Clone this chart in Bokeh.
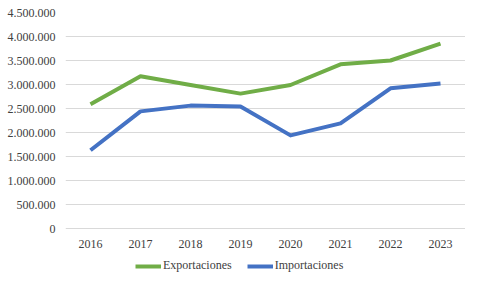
from bokeh.plotting import figure
from bokeh.models import FactorRange, Range1d, Legend, LegendItem, CustomJSTickFormatter, ColumnDataSource
from bokeh.core.properties import value
from bokeh.embed import file_html
from bokeh.resources import INLINE

years = ["2016", "2017", "2018", "2019", "2020", "2021", "2022", "2023"]
exportaciones = [2590000, 3170000, 2990000, 2810000, 2990000, 3420000, 3500000, 3850000]
importaciones = [1630000, 2440000, 2560000, 2540000, 1940000, 2190000, 2920000, 3020000]
y_ticks = [0, 500000, 1000000, 1500000, 2000000, 2500000, 3000000, 3500000, 4000000, 4500000]

FONT = "Liberation Serif"
GREEN = "#70AD47"
BLUE = "#4472C4"
Y_MAX = 4500000
Y_MIN = -Y_MAX * 45 / 216  # room below zero for year labels and legend

p = figure(frame_width=400, frame_height=261, x_range=FactorRange(*years), y_range=Range1d(Y_MIN, Y_MAX),
           x_axis_location=None, output_backend="svg", toolbar_location=None)
p.min_border_left = 65
p.min_border_right = 0
p.min_border_top = 12
p.min_border_bottom = 0
p.outline_line_color = None
p.background_fill_color = "white"
p.border_fill_color = "white"

src = ColumnDataSource(dict(x=years, exp=exportaciones, imp=importaciones, zero=[0] * len(years)))
r1 = p.line("x", "exp", source=src, line_color=GREEN, line_width=4, line_join="round")
r2 = p.line("x", "imp", source=src, line_color=BLUE, line_width=4, line_join="round")

# year labels under the zero line
p.text("x", "zero", text="x", source=src, y_offset=15, text_align="center", text_baseline="middle",
       text_font=value(FONT), text_font_size="12px", text_color="#404040")

p.yaxis.ticker = y_ticks
p.yaxis.formatter = CustomJSTickFormatter(code="return tick.toFixed(0).replace(/\\B(?=(\\d{3})+(?!\\d))/g, '.');")
ax = p.yaxis[0]
ax.axis_line_color = None
ax.major_tick_line_color = None
ax.minor_tick_line_color = None
ax.major_tick_out = 0
ax.major_tick_in = 0
ax.major_label_text_font = FONT
ax.major_label_text_font_size = "12px"
ax.major_label_text_color = "#404040"
ax.major_label_standoff = 10

p.xgrid.grid_line_color = None
p.ygrid.grid_line_color = "#D9D9D9"
p.ygrid.grid_line_width = 1

legend = Legend(items=[LegendItem(label="Exportaciones", renderers=[r1]),
                       LegendItem(label="Importaciones", renderers=[r2])],
                orientation="horizontal", location=(70, 0),
                label_text_font=FONT, label_text_font_size="12px", label_text_color="#404040",
                glyph_width=26, glyph_height=12, label_height=12, label_standoff=2, spacing=15,
                border_line_color=None, padding=0, margin=0, background_fill_alpha=0)
p.add_layout(legend, "center")

open("out.html", "w").write(file_html(p, INLINE))
